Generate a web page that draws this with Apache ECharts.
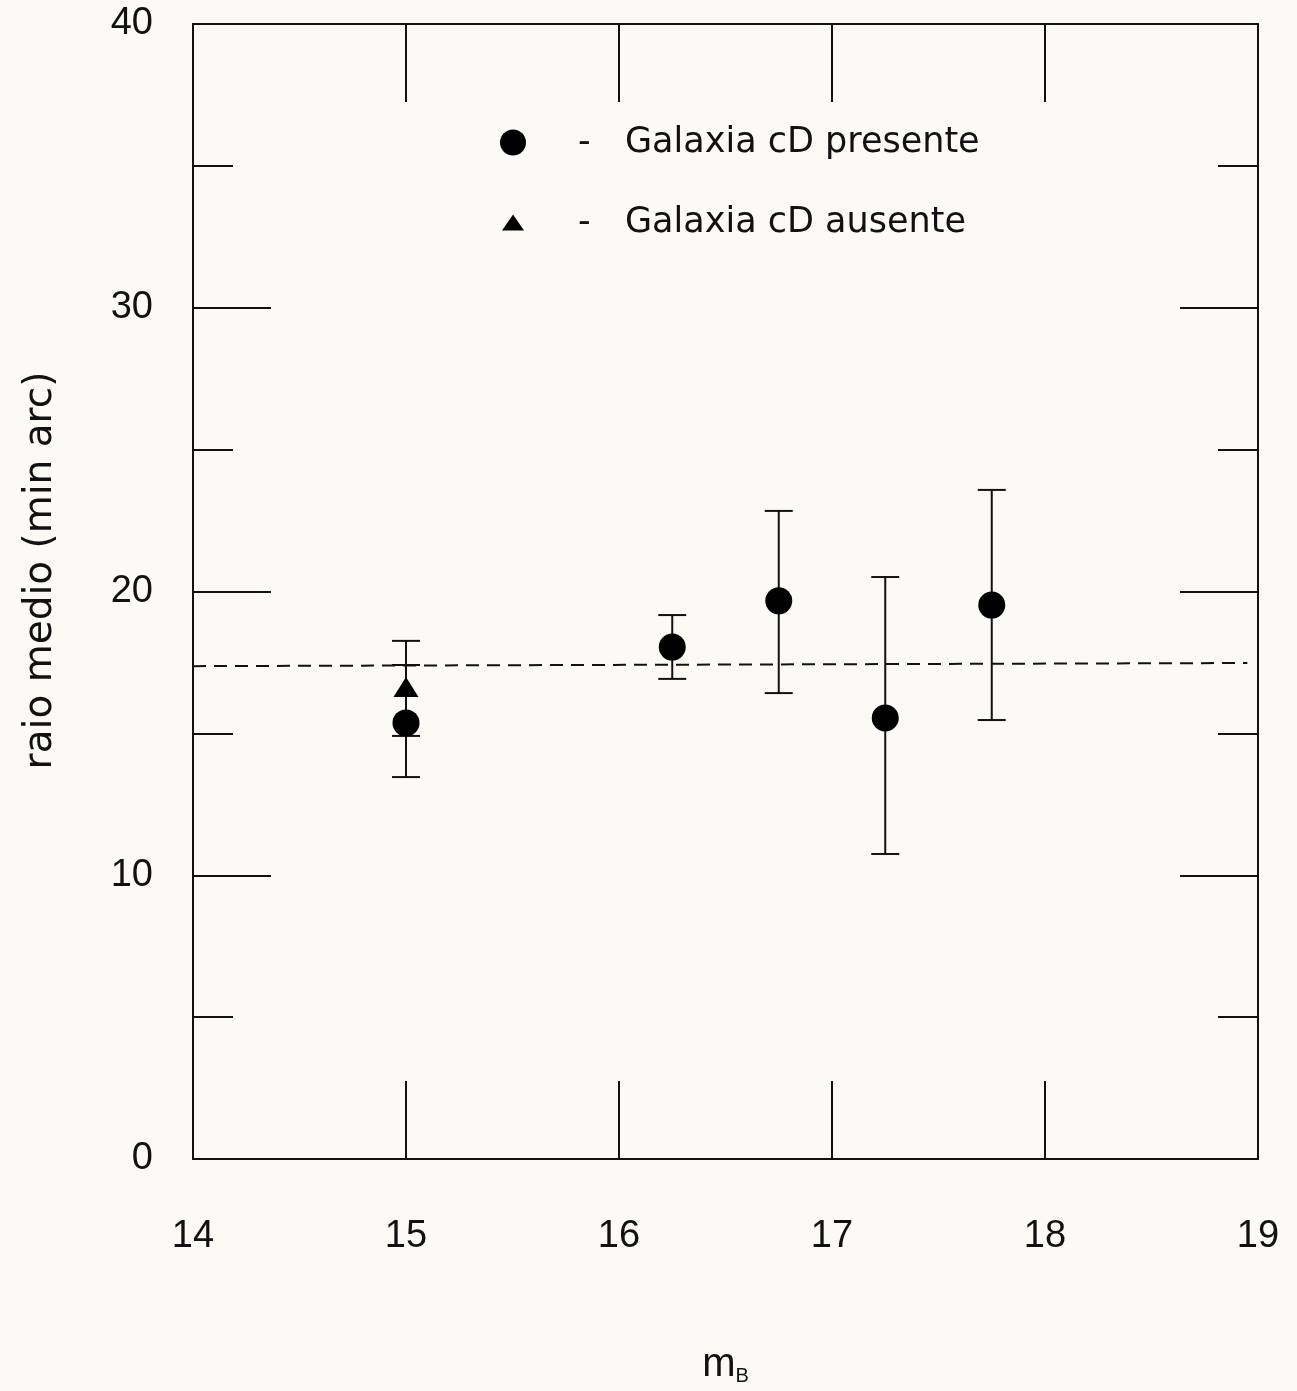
<!DOCTYPE html>
<html>
<head>
<meta charset="utf-8">
<script src="https://cdn.jsdelivr.net/npm/echarts@6/dist/echarts.min.js"></script>
<style>
html,body{margin:0;padding:0;background:#fbfaf4;}
#chart{width:1297px;height:1391px;}
</style>
</head>
<body>
<div id="chart"></div>
<script>
// Data
const presenteX   = [15, 16.25, 16.75, 17.25, 17.75];
const presenteY   = [15.37, 18.04, 19.67, 15.54, 19.52];
const presenteLo  = [13.46, 16.92, 16.42, 10.75, 15.47];
const presenteHi  = [17.41, 19.17, 22.84, 20.51, 23.58];

const ausenteX  = [15];
const ausenteY  = [16.63];
const ausenteLo = [14.91];
const ausenteHi = [18.26];

const meanLineX = [14, 18.95];
const meanLineY = [17.37, 17.48];

const xTicks = [14, 15, 16, 17, 18, 19];
const yTicks = [0, 10, 20, 30, 40];

const nameP = 'Galaxia cD presente';
const nameA = 'Galaxia cD ausente';

const ink = '#111111';
const font = '"Liberation Sans", Arial, sans-serif';
const wideFont = '"DejaVu Sans", "Liberation Sans", sans-serif';

function errData(xs, lo, hi){ return xs.map((x,i)=>[x, lo[i], hi[i]]); }

function errRender(params, api){
  const x = api.value(0);
  const lo = api.coord([x, api.value(1)]);
  const hi = api.coord([x, api.value(2)]);
  const hw = 14;
  const st = {stroke: ink, lineWidth: 2};
  return {type:'group', children:[
    {type:'line', shape:{x1:lo[0], y1:lo[1], x2:hi[0], y2:hi[1]}, style:st},
    {type:'line', shape:{x1:lo[0]-hw, y1:lo[1], x2:lo[0]+hw, y2:lo[1]}, style:st},
    {type:'line', shape:{x1:hi[0]-hw, y1:hi[1], x2:hi[0]+hw, y2:hi[1]}, style:st}
  ]};
}

const chart = echarts.init(document.getElementById('chart'));

function legendRich(pad, w){
  return {
    d: {fontSize: 35, fontFamily: wideFont, color: ink, width: w, align: 'left', padding:[0,0,0,pad], lineHeight: 40},
    t: {fontSize: 35, fontFamily: wideFont, color: ink, lineHeight: 40}
  };
}

const axisLineCommon = {onZero:false, lineStyle:{color:ink, width:2}};
const tickCommon = {inside:true, length:78, lineStyle:{color:ink, width:2}};
const minorCommon = {show:true, splitNumber:2, length:40, lineStyle:{color:ink, width:2}};

const option = {
  backgroundColor: '#fbfaf4',
  animation: false,
  grid: {left: 193, right: 39, top: 24, bottom: 232},
  legend: [
    {data:[{name:nameP, icon:'circle'}], left: 500, top: 125, itemWidth: 26, itemHeight: 26, padding: 0,
     formatter: n => '{d|-}{t|' + n + '}', textStyle:{rich: legendRich(47, 47)}},
    {data:[{name:nameA, icon:'triangle'}], left: 502, top: 205, itemWidth: 22, itemHeight: 16, padding: 0,
     formatter: n => '{d|-}{t|' + n + '}', textStyle:{rich: legendRich(49, 47)}}
  ],
  xAxis: [
    {type:'value', min:14, max:19, interval:1, position:'bottom',
     name:'{m|m}{b|B}', nameLocation:'middle', nameGap:185,
     nameTextStyle:{rich:{m:{fontSize:40, fontFamily:font, color:ink}, b:{fontSize:20, fontFamily:font, color:ink, padding:[22,0,0,0]}}},
     axisLine: axisLineCommon, axisTick: tickCommon,
     axisLabel:{margin:59, fontSize:38, fontFamily:font, color:ink},
     splitLine:{show:false}},
    {type:'value', min:14, max:19, interval:1, position:'top',
     axisLine: axisLineCommon, axisTick: tickCommon,
     axisLabel:{show:false}, splitLine:{show:false}}
  ],
  yAxis: [
    {type:'value', min:0, max:40, interval:10, position:'left',
     name:'raio medio (min arc)', nameLocation:'middle', nameGap:133,
     nameTextStyle:{fontSize:39, fontFamily:wideFont, color:ink, padding:[0,0,0,42]},
     axisLine: axisLineCommon, axisTick: tickCommon, minorTick: minorCommon,
     axisLabel:{margin:40, fontSize:38, fontFamily:font, color:ink},
     splitLine:{show:false}, minorSplitLine:{show:false}},
    {type:'value', min:0, max:40, interval:10, position:'right',
     axisLine: axisLineCommon, axisTick: tickCommon, minorTick: minorCommon,
     axisLabel:{show:false}, splitLine:{show:false}, minorSplitLine:{show:false}}
  ],
  series: [
    {type:'line', data: meanLineX.map((x,i)=>[x, meanLineY[i]]), symbol:'none',
     lineStyle:{color:ink, width:2, type:[13,8]}, silent:true, z:1},
    {type:'custom', renderItem: errRender, data: errData(presenteX, presenteLo, presenteHi), z:2, silent:true},
    {type:'custom', renderItem: errRender, data: errData(ausenteX, ausenteLo, ausenteHi), z:2, silent:true},
    {name:nameP, type:'scatter', symbol:'circle', symbolSize:27,
     itemStyle:{color:'#000', opacity:1}, data: presenteX.map((x,i)=>[x, presenteY[i]]), z:3},
    {name:nameA, type:'scatter', symbol:'triangle', symbolSize:[25,20],
     itemStyle:{color:'#000', opacity:1}, data: ausenteX.map((x,i)=>[x, ausenteY[i]]), z:3}
  ]
};
chart.setOption(option);
</script>
</body>
</html>
